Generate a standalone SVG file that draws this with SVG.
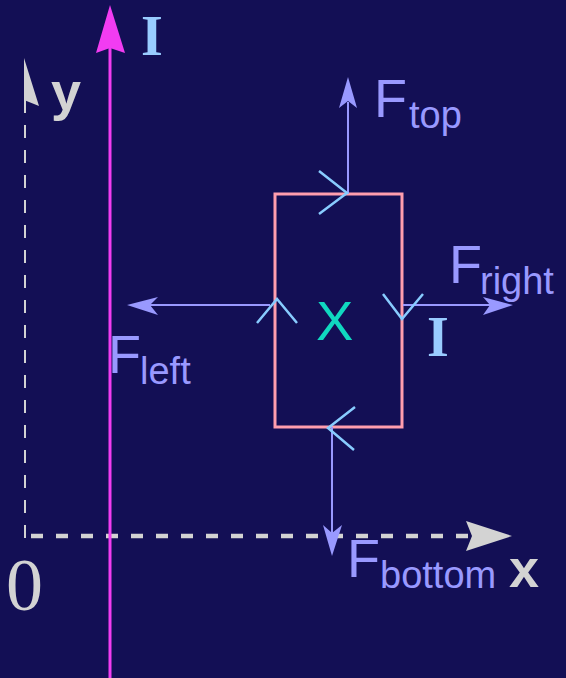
<svg xmlns="http://www.w3.org/2000/svg" width="566" height="678" viewBox="0 0 566 678">
<style>
.force{stroke:#9999ff;stroke-width:2;fill:none}
.head{fill:#9999ff}
.chev{stroke:#88ccff;stroke-width:2.5;fill:none}
.axis{stroke:#d3d3d3;fill:none}
.F{font-family:"Liberation Sans",Arial,sans-serif;fill:#9999ff;font-size:54px}
.sub{font-family:"Liberation Sans",Arial,sans-serif;fill:#9999ff;font-size:38px}
.cur{font-family:"Liberation Serif","Times New Roman",serif;font-weight:bold;fill:#99ccff;font-size:56px}
.ax{font-family:"Liberation Sans",Arial,sans-serif;font-weight:bold;fill:#d3d3d3;font-size:54px}
</style>
<rect width="566" height="678" fill="#130f55"/>
<g id="axes">
<line class="axis" x1="25" y1="100" x2="25" y2="540" stroke-width="2" stroke-dasharray="13 12"/>
<polygon points="24,58 39,106 24,100" fill="#d3d3d3"/>
<line class="axis" x1="31" y1="536" x2="470" y2="536" stroke-width="4.5" stroke-dasharray="12 13"/>
<polygon points="512,536 466,521 472,536 466,551" fill="#d3d3d3"/>
<text class="ax" x="51" y="110">y</text>
<text class="ax" x="509" y="587">x</text>
<text x="6" y="610" font-family="'Liberation Serif','Times New Roman',serif" font-size="74" fill="#d3d3d3">0</text>
</g>
<g id="wire">
<line x1="110" y1="45" x2="110" y2="678" stroke="#f23cf2" stroke-width="3"/>
<polygon points="110,5 125,53 110,48 96,53" fill="#f23cf2"/>
<text class="cur" x="141" y="55">I</text>
</g>
<g id="loop">
<rect x="275" y="194" width="127" height="233" fill="none" stroke="#ff9eae" stroke-width="3"/>
<text x="316" y="340" font-family="'Liberation Sans',Arial,sans-serif" font-size="56" fill="#10d8c0">X</text>
<text class="cur" x="427" y="356">I</text>
</g>
<g id="connectors">
<line class="force" x1="348" y1="194" x2="348" y2="102"/>
<polygon class="head" points="348,77 357,108 348,101 339,108"/>
<line class="force" x1="403" y1="305" x2="490" y2="305"/>
<polygon class="head" points="513,305 483,315 490,305 483,297"/>
<line class="force" x1="270" y1="305" x2="150" y2="305"/>
<polygon class="head" points="127,305 158,297 150,305 158,315"/>
<line class="force" x1="332" y1="427" x2="332" y2="548"/>
<polygon class="head" points="332,556 323,525 332,533 342,525"/>
<polyline class="chev" points="319,171 347,193 319,214"/>
<polyline class="chev" points="383,294 402,319 423,294"/>
<polyline class="chev" points="355,407 328,428 354,450"/>
<polyline class="chev" points="257,323 277,299 297,323"/>
</g>
<g id="labels">
<text class="F" x="374" y="117">F</text><text class="sub" x="409" y="128">top</text>
<text class="F" x="449" y="283">F</text><text class="sub" x="480" y="294">right</text>
<text class="F" x="108" y="373">F</text><text class="sub" x="140" y="384">left</text>
<text class="F" x="347" y="577">F</text><text class="sub" x="380" y="588">bottom</text>
</g>
</svg>
